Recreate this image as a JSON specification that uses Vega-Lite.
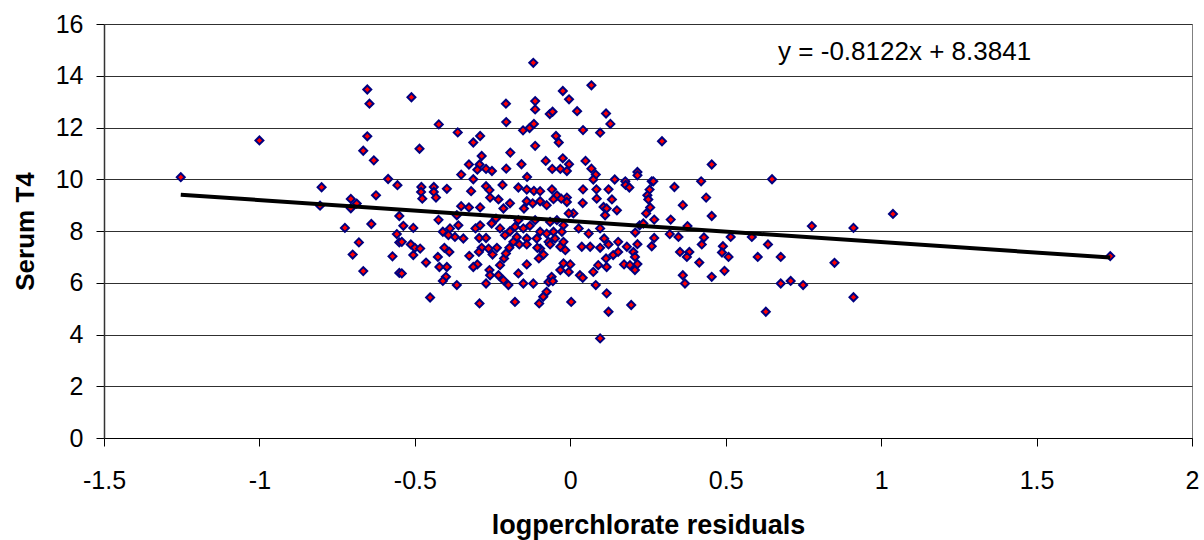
{
  "$schema": "https://vega.github.io/schema/vega-lite/v6.json",
  "width": 1088,
  "height": 414,
  "autosize": {"type": "none"},
  "padding": {"left": 104, "top": 24, "right": 12, "bottom": 102},
  "background": "white",
  "config": {
    "font": "Liberation Sans",
    "view": {"stroke": "#808080", "strokeWidth": 1}
  },
  "datasets": {
    "pts": [
      {"x":-1.253,"y":10.08},{"x":-1.0,"y":11.5},{"x":-0.80,"y":9.69},{"x":-0.805,"y":8.98},{"x":-0.706,"y":9.24},{"x":-0.706,"y":8.88},{"x":-0.687,"y":9.06},{"x":-0.653,"y":13.47},{"x":-0.646,"y":12.92},{"x":-0.653,"y":11.66},{"x":-0.666,"y":11.1},{"x":-0.632,"y":10.73},{"x":-0.625,"y":9.38},{"x":-0.586,"y":10.01},{"x":-0.556,"y":9.77},{"x":-0.55,"y":8.58},{"x":-0.725,"y":8.12},{"x":-0.64,"y":8.27},{"x":-0.68,"y":7.56},{"x":-0.70,"y":7.09},{"x":-0.666,"y":6.45},{"x":-0.572,"y":7.02},{"x":-0.558,"y":7.88},{"x":-0.55,"y":7.56},{"x":-0.55,"y":6.38},
      {"x":-0.119,"y":14.5},{"x":-0.511,"y":13.17},{"x":-0.207,"y":12.92},{"x":-0.113,"y":13.02},{"x":-0.113,"y":12.70},{"x":-0.024,"y":13.41},{"x":-0.004,"y":13.09},{"x":0.068,"y":13.63},{"x":-0.066,"y":12.52},{"x":-0.057,"y":12.61},{"x":0.022,"y":12.63},{"x":0.115,"y":12.54},{"x":0.129,"y":12.14},{"x":-0.423,"y":12.12},{"x":-0.206,"y":12.21},{"x":-0.152,"y":11.89},{"x":-0.131,"y":11.98},{"x":-0.117,"y":12.14},{"x":0.041,"y":11.90},{"x":0.096,"y":11.80},{"x":-0.362,"y":11.81},{"x":-0.290,"y":11.67},{"x":-0.312,"y":11.42},{"x":-0.046,"y":11.67},{"x":-0.037,"y":11.42},{"x":-0.113,"y":11.29},{"x":-0.485,"y":11.18},{"x":-0.193,"y":11.03},{"x":-0.285,"y":10.9},{"x":-0.326,"y":10.57},{"x":-0.292,"y":10.57},{"x":-0.299,"y":10.37},{"x":-0.271,"y":10.40},{"x":-0.252,"y":10.32},{"x":-0.206,"y":10.41},{"x":-0.157,"y":10.58},{"x":-0.079,"y":10.71},{"x":-0.024,"y":10.81},{"x":-0.004,"y":10.58},{"x":-0.058,"y":10.40},{"x":-0.032,"y":10.40},{"x":-0.011,"y":10.32},{"x":0.049,"y":10.71},{"x":0.068,"y":10.41},{"x":0.082,"y":10.18},{"x":0.074,"y":9.99},{"x":-0.139,"y":10.09},{"x":-0.351,"y":10.18},{"x":-0.312,"y":10.0},{"x":0.143,"y":9.99},{"x":0.177,"y":9.92},{"x":-0.479,"y":9.70},{"x":-0.439,"y":9.70},{"x":-0.397,"y":9.63},{"x":-0.48,"y":9.51},{"x":-0.439,"y":9.51},{"x":-0.432,"y":9.29},{"x":-0.476,"y":9.25},{"x":-0.319,"y":9.54},{"x":-0.271,"y":9.73},{"x":-0.26,"y":9.58},{"x":-0.218,"y":9.78},{"x":-0.167,"y":9.68},{"x":-0.140,"y":9.6},{"x":-0.117,"y":9.55},{"x":-0.097,"y":9.54},{"x":-0.059,"y":9.61},{"x":-0.043,"y":9.38},{"x":-0.011,"y":9.29},{"x":0.041,"y":9.61},{"x":0.084,"y":9.61},{"x":0.123,"y":9.61},{"x":0.178,"y":9.78},{"x":0.19,"y":9.68},{"x":-0.29,"y":8.91},{"x":-0.258,"y":9.29},{"x":-0.231,"y":9.22},{"x":-0.194,"y":9.07},{"x":-0.351,"y":8.96},{"x":-0.326,"y":8.91},{"x":-0.14,"y":9.15},{"x":-0.121,"y":9.07},{"x":-0.097,"y":9.15},{"x":-0.076,"y":9.0},{"x":-0.054,"y":9.23},{"x":-0.029,"y":9.25},{"x":-0.011,"y":9.12},{"x":0.04,"y":9.08},{"x":0.085,"y":9.25},{"x":0.107,"y":8.93},{"x":0.134,"y":9.22},{"x":0.15,"y":8.80},{"x":0.117,"y":8.87},
      {"x":-0.537,"y":8.2},{"x":-0.505,"y":8.12},{"x":-0.542,"y":7.58},{"x":-0.513,"y":7.48},{"x":-0.50,"y":7.35},{"x":-0.483,"y":7.32},{"x":-0.505,"y":7.07},{"x":-0.464,"y":6.78},{"x":-0.542,"y":6.36},{"x":-0.451,"y":5.43},{"x":-0.424,"y":8.43},{"x":-0.41,"y":7.97},{"x":-0.387,"y":8.10},{"x":-0.392,"y":7.84},{"x":-0.371,"y":7.77},{"x":-0.344,"y":7.71},{"x":-0.36,"y":8.22},{"x":-0.365,"y":8.61},{"x":-0.405,"y":7.35},{"x":-0.389,"y":7.19},{"x":-0.426,"y":7.0},{"x":-0.421,"y":6.61},{"x":-0.397,"y":6.61},{"x":-0.40,"y":6.23},{"x":-0.41,"y":6.07},{"x":-0.365,"y":5.91},{"x":-0.305,"y":8.10},{"x":-0.29,"y":8.22},{"x":-0.293,"y":7.73},{"x":-0.271,"y":7.73},{"x":-0.285,"y":7.35},{"x":-0.263,"y":7.32},{"x":-0.236,"y":7.35},{"x":-0.25,"y":7.09},{"x":-0.325,"y":7.04},{"x":-0.294,"y":7.19},{"x":-0.299,"y":6.71},{"x":-0.312,"y":6.61},{"x":-0.26,"y":6.49},{"x":-0.258,"y":6.29},{"x":-0.231,"y":6.29},{"x":-0.226,"y":6.68},{"x":-0.213,"y":6.94},{"x":-0.271,"y":5.97},{"x":-0.292,"y":5.2},{"x":-0.215,"y":6.1},{"x":-0.199,"y":5.91},{"x":-0.178,"y":5.26},{"x":-0.253,"y":8.29},{"x":-0.239,"y":8.48},{"x":-0.215,"y":8.87},{"x":-0.226,"y":8.10},{"x":-0.21,"y":7.84},{"x":-0.194,"y":7.99},{"x":-0.183,"y":7.58},{"x":-0.196,"y":7.35},{"x":-0.207,"y":7.13},{"x":-0.172,"y":7.77},{"x":-0.178,"y":8.16},{"x":-0.167,"y":8.42},{"x":-0.149,"y":8.87},{"x":-0.151,"y":8.10},{"x":-0.14,"y":7.71},{"x":-0.164,"y":7.48},{"x":-0.14,"y":7.48},{"x":-0.167,"y":6.36},{"x":-0.14,"y":6.71},{"x":-0.151,"y":5.97},{"x":-0.119,"y":5.97},{"x":-0.13,"y":8.2},{"x":-0.113,"y":8.42},{"x":-0.097,"y":7.97},{"x":-0.108,"y":7.71},{"x":-0.097,"y":7.32},{"x":-0.106,"y":7.35},{"x":-0.086,"y":7.09},{"x":-0.101,"y":6.94},{"x":-0.07,"y":7.58},{"x":-0.065,"y":7.48},{"x":-0.076,"y":7.9},{"x":-0.054,"y":7.97},{"x":-0.049,"y":7.71},{"x":-0.065,"y":8.35},{"x":-0.043,"y":8.42},{"x":-0.022,"y":8.22},{"x":-0.027,"y":7.97},{"x":-0.032,"y":7.39},{"x":-0.016,"y":7.26},{"x":-0.022,"y":7.58},{"x":-0.060,"y":6.23},{"x":-0.07,"y":6.03},{"x":-0.056,"y":6.06},{"x":-0.076,"y":5.65},{"x":-0.087,"y":5.46},{"x":-0.1,"y":5.2},{"x":-0.032,"y":6.49},{"x":-0.022,"y":6.75},{"x":-0.005,"y":6.42},{"x":0.0,"y":6.71},{"x":0.003,"y":5.26},{"x":0.01,"y":8.68},{"x":-0.005,"y":8.68},{"x":0.027,"y":8.10},{"x":0.037,"y":7.39},{"x":0.059,"y":7.9},{"x":0.064,"y":7.39},{"x":0.031,"y":6.29},{"x":0.04,"y":6.19},{"x":0.074,"y":6.42},{"x":0.09,"y":6.68},{"x":0.082,"y":5.91},{"x":0.117,"y":5.59},{"x":0.123,"y":4.88},{"x":0.096,"y":3.85},{"x":0.096,"y":8.10},{"x":0.109,"y":7.71},{"x":0.096,"y":7.35},{"x":0.123,"y":7.48},{"x":0.115,"y":6.94},{"x":0.117,"y":6.61},{"x":0.138,"y":7.07},{"x":0.154,"y":7.19},{"x":0.154,"y":7.58},{"x":0.112,"y":8.61},{"x":0.182,"y":7.39},{"x":0.203,"y":7.19},{"x":0.208,"y":7.0},{"x":0.173,"y":6.71},{"x":0.192,"y":6.68},{"x":0.208,"y":6.49},{"x":0.196,"y":5.14},{"x":0.223,"y":8.22},
      {"x":0.295,"y":11.47},{"x":0.216,"y":10.28},{"x":0.216,"y":10.15},{"x":0.455,"y":10.57},{"x":0.262,"y":9.92},{"x":0.267,"y":9.92},{"x":0.255,"y":9.60},{"x":0.248,"y":9.38},{"x":0.251,"y":9.22},{"x":0.257,"y":8.91},{"x":0.244,"y":8.68},{"x":0.27,"y":8.44},{"x":0.235,"y":8.29},{"x":0.209,"y":7.94},{"x":0.216,"y":7.49},{"x":0.216,"y":6.72},{"x":0.27,"y":7.73},{"x":0.262,"y":7.41},{"x":0.335,"y":9.70},{"x":0.362,"y":9.0},{"x":0.323,"y":8.44},{"x":0.32,"y":7.88},{"x":0.348,"y":7.77},{"x":0.377,"y":8.19},{"x":0.353,"y":7.19},{"x":0.383,"y":7.19},{"x":0.375,"y":7.0},{"x":0.415,"y":6.78},{"x":0.362,"y":6.29},{"x":0.369,"y":5.97},{"x":0.421,"y":9.92},{"x":0.437,"y":9.29},{"x":0.455,"y":8.58},{"x":0.43,"y":7.75},{"x":0.423,"y":7.48},{"x":0.491,"y":7.41},{"x":0.488,"y":7.17},{"x":0.509,"y":7.0},{"x":0.455,"y":6.23},{"x":0.496,"y":6.46},{"x":0.516,"y":7.77},{"x":0.584,"y":7.77},{"x":0.649,"y":10.0},{"x":0.636,"y":7.48},{"x":0.603,"y":7.0},{"x":0.677,"y":7.0},{"x":0.677,"y":5.97},{"x":0.709,"y":6.07},{"x":0.749,"y":5.91},{"x":0.629,"y":4.88},{"x":0.777,"y":8.19},{"x":0.85,"y":6.77},{"x":0.911,"y":8.12},{"x":0.911,"y":5.44},{"x":1.038,"y":8.66},{"x":1.737,"y":7.03}
    ],
    "trend": [
      {"x": -1.253, "y": 9.4018},
      {"x": 1.737, "y": 6.9733}
    ]
  },
  "layer": [
    {
      "data": {"name": "pts"},
      "mark": {"type": "point", "shape": "diamond", "filled": true, "fill": "#FF0000", "stroke": "#000080", "strokeWidth": 2, "size": 64, "opacity": 1},
      "encoding": {
        "x": {
          "field": "x", "type": "quantitative",
          "scale": {"domain": [-1.5, 2], "nice": false, "zero": false},
          "axis": {
            "values": [-1.5, -1, -0.5, 0, 0.5, 1, 1.5, 2],
            "labelExpr": "toString(datum.value)",
            "grid": false,
            "domain": true, "domainColor": "#000000", "domainWidth": 1,
            "ticks": true, "tickSize": 8, "tickColor": "#000000", "tickWidth": 1,
            "labelFont": "Liberation Sans", "labelFontSize": 25, "labelColor": "#000000", "labelPadding": 22,
            "labelFlush": false, "labelOverlap": false,
            "title": "logperchlorate residuals",
            "titleFont": "Liberation Sans", "titleFontSize": 27, "titleFontWeight": "bold", "titleColor": "#000000",
            "titleX": 544, "titleY": 95, "titleBaseline": "alphabetic", "titleAlign": "center"
          }
        },
        "y": {
          "field": "y", "type": "quantitative",
          "scale": {"domain": [0, 16], "nice": false},
          "axis": {
            "values": [0, 2, 4, 6, 8, 10, 12, 14, 16],
            "grid": true, "gridColor": "#303030", "gridWidth": 1,
            "domain": true, "domainColor": "#333333", "domainWidth": 1.5,
            "ticks": true, "tickSize": 8, "tickColor": "#000000", "tickWidth": 1,
            "labelFont": "Liberation Sans", "labelFontSize": 25, "labelColor": "#000000", "labelPadding": 13,
            "labelFlush": false, "labelOverlap": false,
            "title": "Serum T4",
            "titleFont": "Liberation Sans", "titleFontSize": 26, "titleFontWeight": "bold", "titleColor": "#000000",
            "titleX": -71, "titleY": 207, "titleBaseline": "alphabetic", "titleAlign": "center", "titleAngle": -90
          }
        }
      }
    },
    {
      "data": {"name": "trend"},
      "mark": {"type": "line", "color": "#000000", "strokeWidth": 4},
      "encoding": {
        "x": {"field": "x", "type": "quantitative"},
        "y": {"field": "y", "type": "quantitative"}
      }
    },
    {
      "data": {"values": [{}]},
      "mark": {"type": "text", "align": "left", "baseline": "alphabetic", "font": "Liberation Sans", "fontSize": 26, "color": "#000000"},
      "encoding": {
        "x": {"datum": 0.6686, "type": "quantitative"},
        "y": {"datum": 14.61, "type": "quantitative"},
        "text": {"value": "y = -0.8122x + 8.3841"}
      }
    }
  ]
}
